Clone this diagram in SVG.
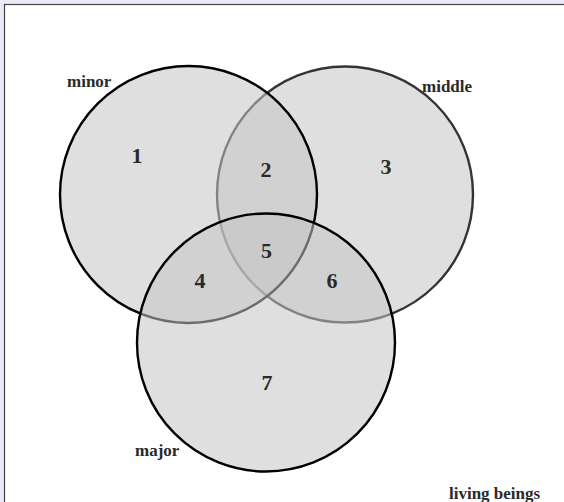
<svg xmlns="http://www.w3.org/2000/svg" width="564" height="502" viewBox="0 0 564 502">
<style>
.set{fill:#c4c4c4;fill-opacity:0.55;stroke-width:2.4}
.lbl{font-family:"Liberation Serif","Times New Roman",serif;font-weight:bold;fill:#2a2a2a}
.name{font-size:17px}
.num{font-size:22px;text-anchor:middle}
</style>
<rect x="0" y="0" width="564" height="502" fill="#ece8f6"/>
<rect x="4.5" y="4.5" width="570" height="510" fill="#ffffff" stroke="#444444" stroke-width="1.2"/>
<g id="middle">
<circle class="set" cx="345" cy="194.5" r="128" stroke="#333333"/>
<text class="lbl name" x="422" y="91.5">middle</text>
</g>
<g id="minor">
<circle class="set" cx="188.5" cy="194.5" r="128.5" stroke="#000000"/>
<text class="lbl name" x="67" y="87">minor</text>
</g>
<g id="major">
<circle class="set" cx="266" cy="342.5" r="129" stroke="#000000"/>
<text class="lbl name" x="135" y="456">major</text>
</g>
<g id="regions">
<text class="lbl num" x="137" y="163">1</text>
<text class="lbl num" x="266" y="176.5">2</text>
<text class="lbl num" x="386" y="174">3</text>
<text class="lbl num" x="200" y="288">4</text>
<text class="lbl num" x="266.5" y="258">5</text>
<text class="lbl num" x="332" y="288">6</text>
<text class="lbl num" x="267" y="390">7</text>
</g>
<g id="universe">
<text class="lbl name" x="449" y="499">living beings</text>
</g>
</svg>
